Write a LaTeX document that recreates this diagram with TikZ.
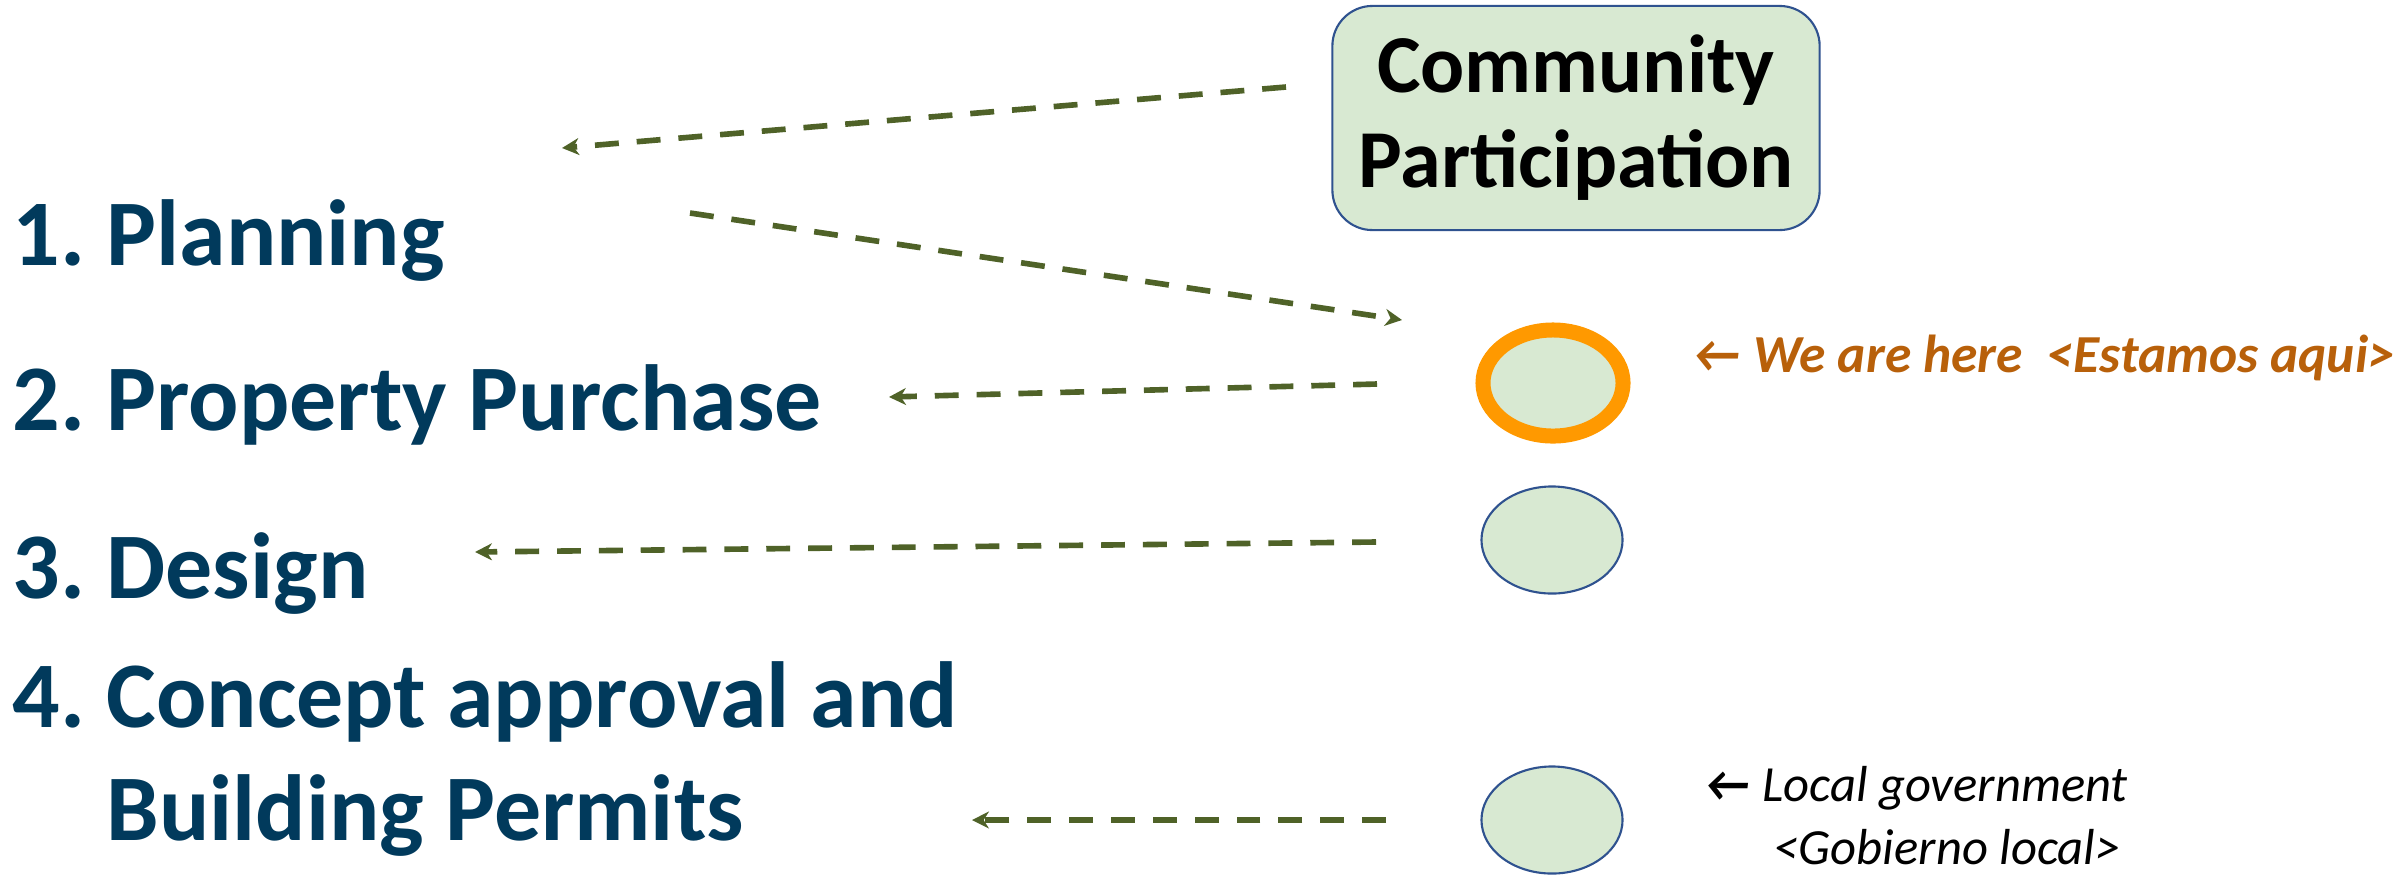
\documentclass[tikz,border=0pt]{standalone}
\usepackage{fontspec}
\setmainfont{Carlito}
\usetikzlibrary{shapes.geometric,arrows.meta}
\definecolor{stagecol}{RGB}{1,58,92}
\definecolor{linkgreen}{RGB}{79,98,40}
\definecolor{palegreen}{RGB}{216,233,210}
\definecolor{rimblue}{RGB}{47,82,143}
\definecolor{ringorange}{RGB}{255,153,0}
\definecolor{herecol}{RGB}{184,96,10}
\frenchspacing
\begin{document}
\begin{tikzpicture}[x=.01cm,y=-.01cm,
	stage/.style={anchor=base west,inner sep=0,text=stagecol,align=left,font=\bfseries\fontsize{26.7}{31.9}\selectfont},
	bubble/.style={ellipse,draw=rimblue,line width=.6pt,fill=palegreen,minimum width=1.41cm,minimum height=1.07cm},
	link/.style={linkgreen,line width=1.6pt,dash pattern=on 6.8pt off 5.1pt,-{Stealth[length=4.8pt,width=4.8pt,inset=1.5pt]}},
	note/.style={anchor=base west,inner sep=0,align=left,font=\itshape\fontsize{14.4}{17.9}\selectfont}]
	\useasboundingbox (0,0) rectangle (2407,875);
	% steps
	\node[stage] (s1) at (12,265) {1. Planning};
	\node[stage] (s2) at (12,430) {2. Property Purchase};
	\node[stage] (s3) at (12,598) {3. Design};
	\node[stage] (s4) at (12,840) {4. Concept approval and\\\phantom{4.\ }Building Permits};
	% community box and bubbles
	\node[draw=rimblue,fill=palegreen,line width=.6pt,rounded corners=.4cm,minimum width=4.87cm,minimum height=2.24cm,align=center,font=\bfseries\fontsize{23.4}{27}\selectfont] (cp) at (1576,118) {Community\\Participation};
	\node[bubble,draw=ringorange,line width=.15cm,minimum width=1.40cm,minimum height=1.06cm] (c2) at (1553,383) {};
	\node[bubble] (c3) at (1552,540) {};
	\node[bubble] (c4) at (1552,820) {};
	\node[note,text=herecol,font=\bfseries\itshape\fontsize{15.2}{17.9}\selectfont] (here) at (1692,372) {← We are here\ \ <Estamos aqui>};
	\node[note] (gov) at (1704,864) {{\bfseries ←} Local government\\\hspace*{.69cm}<Gobierno local>};
	% arrows
	\coordinate (a1) at (1286,87);  \coordinate (b1) at (562,148);
	\coordinate (a2) at (690,213);  \coordinate (b2) at (1402,320);
	\coordinate (a3) at (1377,384); \coordinate (b3) at (889,397);
	\coordinate (a4) at (1376,542); \coordinate (b4) at (475,552);
	\coordinate (a5) at (1386,820); \coordinate (b5) at (972,820);
	\foreach \i in {1,...,5}
		\draw[link] (a\i) -- (b\i);
\end{tikzpicture}
\end{document}
